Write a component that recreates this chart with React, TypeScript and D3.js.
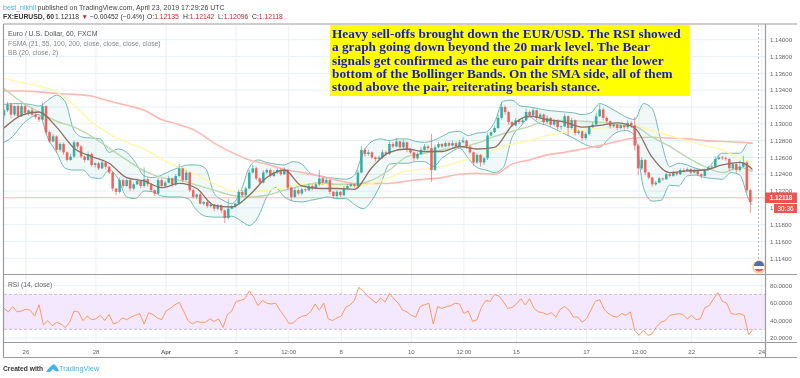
import React from "react";
import * as d3 from "d3";

// Prices are in units of 1/10000 (11400 = 1.14000)
const closes = [11316,11323,11311,11321,11309,11321,11313,11316,11311,11308,11305,11321,11290,11279,11285,11269,11276,11266,11257,11261,11278,11273,11261,11257,11264,11251,11253,11247,11254,11249,11242,11223,11219,11233,11226,11233,11223,11228,11232,11226,11234,11228,11221,11217,11233,11226,11230,11235,11228,11238,11247,11233,11242,11221,11213,11216,11205,11207,11202,11204,11199,11203,11197,11188,11199,11202,11205,11219,11215,11223,11242,11247,11235,11230,11242,11245,11238,11242,11245,11240,11245,11224,11213,11221,11217,11222,11221,11226,11223,11228,11235,11230,11233,11219,11214,11219,11215,11223,11226,11228,11226,11242,11269,11264,11266,11260,11258,11260,11266,11264,11276,11273,11279,11272,11278,11269,11266,11259,11264,11269,11273,11271,11245,11272,11276,11273,11277,11274,11277,11273,11278,11280,11273,11266,11254,11263,11254,11259,11286,11290,11295,11307,11320,11314,11302,11298,11304,11302,11304,11314,11310,11316,11307,11311,11302,11307,11299,11304,11296,11297,11309,11295,11304,11289,11291,11283,11288,11296,11299,11309,11317,11307,11303,11297,11299,11295,11298,11296,11301,11298,11274,11247,11257,11242,11236,11228,11230,11235,11234,11240,11238,11242,11240,11245,11244,11246,11242,11245,11240,11238,11245,11248,11249,11258,11260,11259,11258,11247,11252,11245,11249,11254,11221,11207,11212];
const wickHigh = [2,3,2,1,2,3,2,1,3,2,2,4,1,2,3,1,2,2,1,3,2,1,2,1,3,2,1,2,2,1,1,2,1,3,2,2,1,2,3,1,14,2,1,1,3,2,2,3,1,2,5,1,3,1,2,1,2,1,2,1,1,2,1,1,12,2,1,3,2,2,3,4,2,1,3,2,2,3,2,2,3,1,1,3,2,2,1,3,2,2,10,2,3,1,1,2,1,3,2,2,1,3,5,2,3,1,1,2,3,2,3,2,4,1,3,1,2,1,2,3,3,2,17,3,2,1,2,2,3,2,3,4,1,1,1,2,1,2,3,2,3,4,6,2,1,1,3,2,2,4,2,3,1,2,1,3,1,2,1,1,3,1,3,1,2,1,2,2,3,4,6,2,2,1,2,1,2,1,3,2,10,2,3,1,1,1,2,2,1,3,2,2,1,2,2,2,1,2,1,1,2,2,2,3,3,2,2,1,2,1,7,8,2,2,3];
const wickLow = [3,2,4,2,3,1,2,3,2,2,3,1,3,2,1,4,2,3,2,1,2,3,2,3,1,2,3,2,1,3,2,3,4,2,2,1,3,2,1,3,2,3,2,3,1,2,2,1,3,2,2,3,1,2,2,3,1,2,2,2,3,2,3,6,2,1,2,1,2,2,1,1,2,3,1,2,2,1,2,2,1,3,4,1,2,2,2,1,2,1,2,3,1,3,3,2,2,1,2,1,2,1,1,3,2,2,3,1,2,2,1,2,1,3,2,3,2,3,2,1,1,2,14,1,1,2,1,2,1,2,1,1,3,2,4,2,5,3,2,1,1,1,2,3,3,2,1,2,2,1,2,1,3,2,3,2,3,2,3,3,1,10,2,3,2,3,2,2,1,1,1,3,2,3,2,3,2,3,2,3,6,8,2,3,2,3,2,1,2,1,2,1,2,1,2,1,2,1,2,3,1,1,1,1,1,2,2,3,2,3,2,1,3,13,2];

const ma21 = [11295,11310,11314,11296,11271,11261,11253,11236,11232,11224,11229,11223,11203,11201,11215,11236,11245,11226,11223,11223,11222,11248,11266,11270,11267,11267,11273,11270,11272,11298,11309,11305,11302,11296,11298,11301,11295,11260,11242,11244,11245,11251,11254,11240];
const ma55 = [11342,11326,11314,11303,11296,11285,11271,11257,11244,11236,11233,11227,11221,11215,11213,11215,11221,11226,11230,11228,11228,11233,11245,11261,11265,11269,11272,11277,11285,11291,11297,11304,11304,11303,11302,11299,11297,11284,11273,11260,11249,11242,11248,11240];
const ma100 = [11354,11349,11345,11338,11322,11302,11288,11278,11270,11258,11248,11239,11229,11220,11219,11221,11224,11228,11228,11226,11226,11229,11236,11244,11246,11249,11255,11261,11269,11276,11280,11286,11290,11292,11295,11296,11297,11292,11286,11280,11274,11269,11259,11251];
const ma200 = [11339,11339,11338,11336,11335,11333,11327,11322,11316,11305,11299,11291,11277,11266,11257,11252,11246,11242,11238,11233,11229,11229,11229,11232,11234,11236,11240,11241,11240,11252,11257,11263,11266,11270,11274,11279,11283,11284,11283,11282,11280,11279,11278,11277];
const bbUpper = [11323,11324,11324,11323,11321,11328,11334,11326,11292,11284,11283,11282,11266,11270,11266,11254,11238,11236,11239,11244,11248,11251,11251,11247,11217,11209,11205,11219,11248,11257,11254,11252,11251,11255,11252,11241,11238,11236,11235,11234,11239,11266,11279,11282,11280,11282,11282,11279,11278,11280,11285,11290,11291,11286,11289,11290,11302,11327,11328,11321,11320,11318,11316,11315,11314,11313,11311,11313,11324,11320,11314,11308,11305,11324,11318,11280,11249,11253,11251,11247,11245,11255,11265,11265,11265,11277,11277];
const bbLower = [11278,11285,11298,11307,11311,11283,11266,11247,11245,11245,11236,11235,11245,11235,11213,11211,11220,11219,11214,11213,11213,11211,11197,11190,11189,11189,11190,11185,11179,11189,11213,11224,11213,11208,11207,11209,11211,11213,11211,11211,11204,11199,11209,11228,11252,11253,11253,11255,11255,11249,11259,11266,11271,11259,11248,11245,11242,11248,11284,11297,11308,11301,11298,11293,11288,11283,11277,11273,11272,11282,11290,11292,11286,11224,11208,11209,11227,11226,11238,11239,11236,11235,11234,11242,11239,11210,11199];

const rsi = [54,50,56,50,51,53,52,45,58,35,40,34,38,36,32,38,51,50,40,45,41,42,46,40,47,36,38,43,41,44,46,48,36,49,47,43,41,51,54,58,61,51,40,36,39,38,38,42,39,42,32,47,51,62,63,65,74,67,57,63,60,59,60,52,45,37,37,42,45,46,50,59,52,60,42,40,43,45,55,58,63,78,74,68,64,60,66,61,71,65,60,52,50,46,44,56,58,60,36,56,54,56,57,60,59,48,51,39,41,55,63,62,70,68,62,54,55,59,65,58,65,54,50,49,47,49,44,53,56,52,44,44,38,42,52,62,64,53,48,45,44,48,46,50,29,23,29,23,25,33,38,40,46,47,48,47,42,46,41,42,55,57,65,72,62,60,48,47,48,46,24,30];

const priceTicks = [11400,11380,11360,11340,11320,11300,11280,11260,11240,11220,11200,11180,11160,11140];
const priceLabels = ["1.14000","1.13800","1.13600","1.13400","1.13200","1.13000","1.12800","1.12600","1.12400","1.12200","1.12000","1.11800","1.11600","1.11400"];
const rsiTicks = [80,60,40,20];
const rsiLabels = ["80.0000","60.0000","40.0000","20.0000"];
const timeHours = [15,63,111,159,195,231,279,315,351,399,435,471,519];
const timeLabels = ["26","28","Apr","3","12:00","8","10","12:00","15","17","12:00","22","24"];

const lastPrice = 11212;
const HOURS_PER_BAR = 2.4;
const HOURS_PER_MA = 12;
const HOURS_PER_BB = 6;
const HOURS_PER_RSI = 3;

const SANS = "'Liberation Sans', Arial, sans-serif";
const RIGHT = 765.5;
const FAR = 797;

const x = d3.scaleLinear().domain([0, 100]).range([4, 150]);
const y = d3.scaleLinear().domain([11400, 11140]).range([39.7, 258.3]);
const yr = d3.scaleLinear().domain([80, 20]).range([285.7, 338]);

const line = (vals: number[], hrs: number) =>
  d3.line<number>().x((_, i) => x(i * hrs)).y((d) => y(d)).curve(d3.curveMonotoneX)(vals) || "";

const bbArea = d3.area<number>()
  .x((_, i) => x(i * HOURS_PER_BB))
  .y0((_, i) => y(bbLower[i]))
  .y1((d) => y(d))
  .curve(d3.curveMonotoneX)(bbUpper) || "";

const rsiPath = d3.line<number>().x((_, i) => x(i * HOURS_PER_RSI)).y((d) => yr(d)).curve(d3.curveLinear)(rsi) || "";

const noteLines = [
  "Heavy sell-offs brought down the EUR/USD. The RSI showed",
  "a graph going down beyond the 20 mark level. The Bear",
  "signals get confirmed as the euro pair drifts near the lower",
  "bottom of the Bollinger Bands. On the SMA side, all of them",
  "stood above the pair, reiterating bearish stance.",
];

export default function App() {
  return (
    <svg width={800} height={378} style={{ position: "absolute", left: 0, top: 0, background: "#fff", filter: "blur(0.35px)" }} fontFamily={SANS}>
      <defs>
        <clipPath id="pane"><rect x={4} y={25} width={748.5} height={249} /></clipPath>
        <clipPath id="axisClip"><rect x={4} y={343} width={RIGHT - 4} height={14} /></clipPath>
        <clipPath id="flag"><rect x={740} y={255} width={RIGHT - 740} height={19} /></clipPath>
      </defs>

      {/* header */}
      <text x={3} y={10} fontSize={7}>
        <tspan fill="#45b4ea">best_nikhil</tspan>
        <tspan fill="#444" dx={1.5}>published on TradingView.com, April 23, 2019 17:29:26 UTC</tspan>
      </text>
      <text y={19} fontSize={6.8} fill="#333">
        <tspan x={3} fontWeight="bold">FX:EURUSD, 60</tspan>
        <tspan x={55}>1.12118</tspan>
      </text>
      <text x={81.5} y={19} fontSize={6.5} fill="#c62828">▼</text>
      <text y={19} fontSize={6.8} fill="#333">
        <tspan x={90}>−0.00452 (−0.4%)</tspan>
        <tspan x={147}>O:</tspan><tspan fill="#c62828">1.12135</tspan>
        <tspan x={183}>H:</tspan><tspan fill="#c62828">1.12142</tspan>
        <tspan x={218}>L:</tspan><tspan fill="#c62828">1.12096</tspan>
        <tspan x={252}>C:</tspan><tspan fill="#c62828">1.12118</tspan>
      </text>

      {/* grid */}
      <g stroke="#e9f0f6" strokeWidth={1}>
        {priceTicks.map((t) => <line key={t} x1={4} x2={RIGHT} y1={y(t)} y2={y(t)} />)}
        {timeHours.map((h, i) => <line key={i} x1={x(h)} x2={x(h)} y1={25} y2={342} />)}
        {rsiTicks.map((t) => <line key={t} x1={4} x2={RIGHT} y1={yr(t)} y2={yr(t)} />)}
      </g>

      {/* RSI pane */}
      <rect x={4} y={yr(70)} width={RIGHT - 4} height={yr(30) - yr(70)} fill="#f3e8fd" />
      <g stroke="#cdb8dc" strokeWidth={1} strokeDasharray="3 2">
        <line x1={4} x2={RIGHT} y1={yr(70)} y2={yr(70)} />
        <line x1={4} x2={RIGHT} y1={yr(30)} y2={yr(30)} />
      </g>
      <path d={rsiPath} fill="none" stroke="#ff9a62" strokeWidth={1} />
      <text x={8} y={286.5} fontSize={6.7} fill="#666">RSI (14, close)</text>

      {/* last price line */}
      <line x1={4} x2={RIGHT} y1={y(lastPrice)} y2={y(lastPrice)} stroke="#f9bdbb" strokeWidth={1} />

      <g clipPath="url(#pane)">
        <path d={bbArea} fill="#26a69a" fillOpacity={0.07} />
        <path d={line(bbUpper, HOURS_PER_BB)} fill="none" stroke="#72bab6" strokeWidth={1} />
        <path d={line(bbLower, HOURS_PER_BB)} fill="none" stroke="#72bab6" strokeWidth={1} />
        <path d={line(ma200, HOURS_PER_MA)} fill="none" stroke="#ffb8b2" strokeWidth={1.6} />
        <path d={line(ma100, HOURS_PER_MA)} fill="none" stroke="#fff7a8" strokeWidth={1.4} />
        <path d={line(ma55, HOURS_PER_MA)} fill="none" stroke="#b9d9ae" strokeWidth={1.4} />
        {closes.map((c, i) => {
          const o = i === 0 ? 11310 : closes[i - 1];
          const up = c >= o;
          const col = up ? "#26a69a" : "#ef5350";
          const px = x(i * HOURS_PER_BAR);
          const hi = Math.max(o, c) + wickHigh[i];
          const lo = Math.min(o, c) - wickLow[i];
          return (
            <g key={i}>
              <line x1={px} x2={px} y1={y(hi)} y2={y(lo)} stroke={col} strokeWidth={0.8} strokeOpacity={0.75} />
              <rect x={px - 1.3} width={2.6} y={y(Math.max(o, c))} height={Math.max(0.8, y(Math.min(o, c)) - y(Math.max(o, c)))} fill={col} fillOpacity={0.85} />
            </g>
          );
        })}
        <path d={line(ma21, HOURS_PER_MA)} fill="none" stroke="#8d6e63" strokeWidth={1.3} />
      </g>

      {/* annotation */}
      <rect x={330} y={25} width={360} height={71} fill="#ffff00" />
      <text fontFamily="'Liberation Serif', serif" fontWeight="bold" fontSize={13.3} fill="#1a1acb">
        {noteLines.map((l, i) => <tspan key={i} x={332} y={38 + i * 13.3}>{l}</tspan>)}
      </text>

      {/* legends */}
      <text x={8} y={36} fontSize={7} fill="#555">Euro / U.S. Dollar, 60, FXCM</text>
      <text x={8} y={46} fontSize={6.8} fill="#888">FSMA (21, 55, 100, 200, close, close, close, close)</text>
      <text x={8} y={55} fontSize={6.8} fill="#888">BB (20, close, 2)</text>

      {/* dotted cursor */}
      <line x1={758.5} x2={758.5} y1={25} y2={261} stroke="#b5b5b5" strokeWidth={1} strokeDasharray="2 2" />

      {/* flag */}
      <g clipPath="url(#flag)">
        <circle cx={759} cy={267} r={6} fill="#fff" stroke="#ffcc80" strokeWidth={1.4} />
        <path d="M754 266 A5 5 0 0 1 764 266 Z" fill="#4a6fb5" />
        <path d="M754.5 269 A5 5 0 0 0 763.5 269 Z" fill="#e25c5c" />
      </g>

      {/* frame */}
      <g stroke="#9b9b9b" strokeWidth={1.2} fill="none">
        <line x1={3.5} x2={FAR} y1={24} y2={24} />
        <line x1={3.5} x2={FAR} y1={274.5} y2={274.5} />
        <line x1={3.5} x2={FAR} y1={342.5} y2={342.5} />
        <line x1={3.5} x2={FAR} y1={357.5} y2={357.5} />
        <line x1={3.5} x2={3.5} y1={24} y2={357.5} />
        <line x1={RIGHT} x2={RIGHT} y1={24} y2={357.5} />
      </g>

      {/* axes: tick labels hidden behind the red price boxes are skipped except their visible part */}
      <g fontSize={6.1} fill="#666">
        {priceTicks.map((t, i) => <text key={t} x={770} y={y(t) + 2.2}>{priceLabels[i]}</text>)}
        {rsiTicks.map((t, i) => <text key={t} x={770} y={yr(t) + 2.2}>{rsiLabels[i]}</text>)}
      </g>
      <g clipPath="url(#axisClip)" fontSize={6} fill="#666" textAnchor="middle">
        {timeHours.map((h, i) => (
          <text key={i} x={x(h)} y={354} fontWeight={timeLabels[i] === "Apr" ? "bold" : "normal"}>{timeLabels[i]}</text>
        ))}
      </g>
      <rect x={765} y={192.5} width={32} height={10.5} fill="#ef5350" />
      <text x={781} y={200.2} fontSize={6.4} fill="#fff" textAnchor="middle" fontWeight="bold">1.12118</text>
      <rect x={774} y={204} width={23} height={9} fill="#ef5350" />
      <text x={785.5} y={210.8} fontSize={6.4} fill="#fff" textAnchor="middle">30:36</text>

      {/* footer */}
      <text x={3} y={370.5} fontSize={6.7} fill="#333" fontWeight="bold">Created with</text>
      <path d="M46 372 L49 368 L51 366 L54 364 L57 367 L59 371 L56 371.5 L53 369 L50 372 Z" fill="#45b4ea" />
      <text x={59} y={371} fontSize={7.3} fill="#45b4ea">TradingView</text>
    </svg>
  );
}
